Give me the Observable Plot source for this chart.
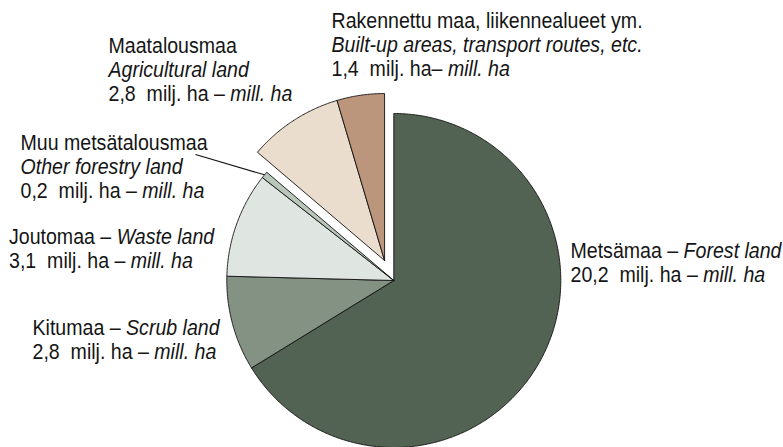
<!DOCTYPE html>
<html>
<head>
<meta charset="utf-8">
<script src="https://cdn.jsdelivr.net/npm/d3@7"></script>
<script src="https://cdn.jsdelivr.net/npm/@observablehq/plot@0.6"></script>
<style>
  html, body { margin: 0; padding: 0; background: #fff; }
</style>
</head>
<body>
<div id="chart"></div>
<script>
// ---- data ----
const categories = ["Metsämaa", "Kitumaa", "Joutomaa", "Muu metsätalousmaa", "Maatalousmaa", "Rakennettu maa"];
const categoriesEn = ["Forest land", "Scrub land", "Waste land", "Other forestry land", "Agricultural land", "Built-up areas, transport routes, etc."];
const valuesMillHa = [20.2, 2.8, 3.1, 0.2, 2.8, 1.4];
const explodedSlices = ["Maatalousmaa", "Rakennettu maa"];
const sliceColors = ["#536353", "#849284", "#dfe5e0", "#b9c6ba", "#ebddcd", "#bc967c"];
const unitFi = "milj. ha";
const unitEn = "mill. ha";

// ---- layout (pixels) ----
const W = 783, H = 447;
const cx = 393.3, cy = 280, R = 167, explodeDist = 22;
const fontSize = 22, lineGap = 24, textScaleX = 0.89;
// label block: left x, cap-top y, layout style
const labelLayout = [
  {x: 570, y: 240, style: "inline"},
  {x: 32,  y: 317, style: "inline"},
  {x: 8.5, y: 226, style: "inline"},
  {x: 20,  y: 132, style: "stacked"},
  {x: 108, y: 35,  style: "stacked"},
  {x: 331, y: 10,  style: "stacked"}
];
const leaderStart = {x: 195, y: 154, slice: "Muu metsätalousmaa"};

// pixel -> unit coordinates used by the scales
const toU = px => (px - cx) / R;
const toV = py => (cy - py) / R;

const fmt = v => d3.format(".1f")(v).replace(".", ",");
const rows = categories.map((c, i) => ({key: c, en: categoriesEn[i], value: valuesMillHa[i]}));
const arcs = d3.pie().sort(null).value(d => d.value)(rows);

// explode offset along the mid-angle of the exploded group
const ex = arcs.filter(a => explodedSlices.includes(a.data.key));
const exMid = (d3.min(ex, a => a.startAngle) + d3.max(ex, a => a.endAngle)) / 2;
const exOff = {x: Math.sin(exMid) * explodeDist / R, y: Math.cos(exMid) * explodeDist / R};

const points = [];
for (const a of arcs) {
  const off = explodedSlices.includes(a.data.key) ? exOff : {x: 0, y: 0};
  const n = Math.max(2, Math.ceil((a.endAngle - a.startAngle) / (Math.PI / 360)));
  points.push({key: a.data.key, x: off.x, y: off.y});
  for (let i = 0; i <= n; i++) {
    const t = a.startAngle + (a.endAngle - a.startAngle) * i / n;
    points.push({key: a.data.key, x: off.x + Math.sin(t), y: off.y + Math.cos(t)});
  }
  points.push({key: a.data.key, x: off.x, y: off.y});
}

// labels
const labels = rows.map((r, i) => {
  const L = labelLayout[i];
  const valueLine = `${fmt(r.value)}\u00a0 ${unitFi}${r.key === "Rakennettu maa" ? "" : " "}– *${unitEn}*`;
  const fi = r.key === "Rakennettu maa" ? "Rakennettu maa, liikennealueet ym." : r.key;
  const text = L.style === "inline"
    ? `${fi} – *${r.en}*\n${valueLine}`
    : `${fi}\n*${r.en}*\n${valueLine}`;
  return {x: toU(L.x), y: toV(L.y), text};
});

// leader line
const la = arcs.find(a => a.data.key === leaderStart.slice);
const lm = (la.startAngle + la.endAngle) / 2;
const leader = [{x1: toU(leaderStart.x), y1: toV(leaderStart.y), x2: Math.sin(lm), y2: Math.cos(lm)}];

const chart = Plot.plot({
  width: W,
  height: H,
  margin: 0,
  style: {background: "#fff", overflow: "visible"},
  x: {domain: [toU(0), toU(W)], range: [0, W], axis: null},
  y: {domain: [toV(H), toV(0)], range: [H, 0], axis: null},
  color: {domain: categories, range: sliceColors},
  marks: [
    Plot.line(points, {x: "x", y: "y", z: "key", fill: "key", stroke: "#111", strokeWidth: 0.9, strokeLinejoin: "miter", curve: "linear"}),
    Plot.link(leader, {x1: "x1", y1: "y1", x2: "x2", y2: "y2", stroke: "#111", strokeWidth: 1.1}),
    Plot.text(labels, {x: "x", y: "y", text: "text", textAnchor: "start", lineAnchor: "top",
      fontSize, lineHeight: lineGap / fontSize, fontFamily: "'Liberation Sans', Arial, sans-serif", fill: "#151515"})
  ]
});

// post-process text: horizontal condensation and italic segments
d3.select(chart).selectAll("g[aria-label=text] text").each(function() {
  const t = this.getAttribute("transform") || "";
  this.setAttribute("transform", t + ` scale(${textScaleX},1)`);
  const targets = this.querySelectorAll("tspan").length ? Array.from(this.querySelectorAll("tspan")) : [this];
  for (const el of targets) {
    const s = el.textContent;
    if (!s.includes("*")) continue;
    el.textContent = "";
    s.split("*").forEach((part, i) => {
      if (!part) return;
      const ts = document.createElementNS("http://www.w3.org/2000/svg", "tspan");
      ts.textContent = part;
      if (i % 2 === 1) ts.setAttribute("font-style", "italic");
      el.appendChild(ts);
    });
  }
});

document.getElementById("chart").appendChild(chart);
</script>
</body>
</html>
